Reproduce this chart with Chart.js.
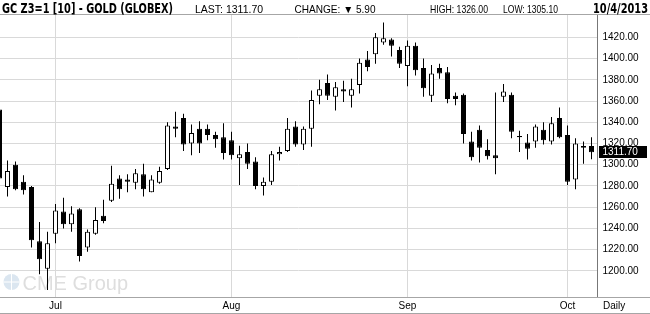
<!DOCTYPE html>
<html>
<head>
<meta charset="utf-8">
<script src="https://cdn.jsdelivr.net/npm/chart.js@4.4.0/dist/chart.umd.min.js"></script>
<style>
  html, body { margin: 0; padding: 0; background: #fff; }
  #wrap { position: relative; width: 650px; height: 314px; }
</style>
</head>
<body>
<div id="wrap"><canvas id="goldChart" width="650" height="314"></canvas></div>
<script>
/* ----------------------------------------------------------
   DATA: GC Z3 daily candles, Jun 20 - Oct 4 2013
   ---------------------------------------------------------- */
const opens  = [1352, 1279, 1300, 1284, 1279, 1228, 1202, 1235, 1256, 1244, 1258, 1222, 1235, 1252, 1266, 1287, 1286, 1283, 1291, 1274,
                1283, 1296, 1336, 1344, 1320, 1334, 1334, 1328, 1326, 1323, 1306, 1312, 1303, 1280, 1284, 1310, 1313, 1336, 1319, 1334,
                1365, 1377, 1364, 1371, 1365, 1375, 1399, 1404, 1415, 1418, 1408, 1393, 1412, 1391, 1365, 1391, 1387, 1365, 1366, 1322,
                1333, 1314, 1309, 1364, 1366, 1327, 1321, 1322, 1333, 1322, 1344, 1328, 1286, 1316, 1317.6];
const highs  = [1352, 1304, 1303, 1290, 1280, 1246, 1237, 1263, 1269, 1261, 1259, 1239, 1260, 1267, 1299, 1290, 1291, 1296, 1301, 1290,
                1298, 1340, 1350, 1348, 1338, 1341, 1338, 1331, 1339, 1331, 1318, 1320, 1307, 1288, 1313, 1317, 1344, 1341, 1336, 1370,
                1380, 1385, 1378, 1379, 1381, 1400, 1407, 1424, 1434, 1419, 1411, 1417, 1415, 1400, 1394, 1395, 1392, 1368, 1367, 1331,
                1337, 1324, 1368, 1376, 1368, 1332, 1329, 1338, 1340, 1345, 1354, 1337, 1325, 1322, 1326];
const lows   = [1287, 1270, 1276, 1272, 1222, 1197, 1182, 1226, 1240, 1237, 1209, 1218, 1234, 1245, 1265, 1268, 1274, 1277, 1270, 1274,
                1282, 1295, 1326, 1313, 1309, 1311, 1323, 1316, 1305, 1305, 1281, 1296, 1277, 1271, 1281, 1304, 1312, 1317, 1314, 1317,
                1357, 1361, 1351, 1359, 1354, 1367, 1388, 1395, 1413, 1402, 1391, 1374, 1384, 1364, 1359, 1381, 1358, 1356, 1320, 1304,
                1302, 1305, 1291, 1359, 1325, 1312, 1305, 1316, 1319, 1319, 1325, 1281, 1277, 1301, 1305.1];
const closes = [1287, 1294, 1277, 1276, 1229, 1211, 1226, 1257, 1244, 1254, 1214, 1237, 1248, 1247, 1282, 1277, 1284, 1292, 1277, 1286,
                1294, 1337, 1334, 1319, 1330, 1320, 1328, 1324, 1311, 1309, 1310, 1301, 1280, 1284, 1310, 1312, 1334, 1319, 1334, 1361,
                1371, 1365, 1373, 1369, 1371, 1396, 1392, 1420, 1419, 1412, 1395, 1412, 1389, 1372, 1386, 1386, 1362, 1362, 1329, 1307,
                1316, 1308, 1306, 1369, 1331, 1326, 1315, 1336, 1323, 1339, 1326, 1284, 1320, 1317.6, 1311.7];

// first trading day of each month (candle index) and its label
const monthStarts = [7, 29, 51, 71];
const monthLabels = ['Jul', 'Aug', 'Sep', 'Oct'];
const priceTicks  = [1200, 1220, 1240, 1260, 1280, 1300, 1320, 1340, 1360, 1380, 1400, 1420];

const lastPrice = closes[closes.length - 1];

/* ----------------------------------------------------------
   CANDLE DATASETS (wick + body as floating bars)
   ---------------------------------------------------------- */
const wickData = highs.map((h, i) => ({ x: i, y: [lows[i], h] }));
const bodyData = opens.map((o, i) => ({ x: i, y: [Math.min(o, closes[i]), Math.max(o, closes[i])] }));
const bodyFill = opens.map((o, i) => closes[i] >= o ? '#ffffff' : '#000000');

const SMALL = '"Liberation Sans", Arial, sans-serif';
const NARROW = '"Liberation Sans Narrow", "DejaVu Sans Condensed", "Liberation Sans", sans-serif';

/* ----------------------------------------------------------
   HEADER, WATERMARK, LAST PRICE TAG
   ---------------------------------------------------------- */
const chromePlugin = {
    id: 'chrome',
    beforeDatasetsDraw(chart) {
        const ctx = chart.ctx;
        ctx.save();
        // CME Group watermark
        ctx.fillStyle = '#dbe6f0';
        ctx.beginPath();
        ctx.arc(11.5, 282, 8, 0, Math.PI * 2);
        ctx.fill();
        ctx.strokeStyle = '#ffffff';
        ctx.lineWidth = 1;
        ctx.beginPath();
        ctx.moveTo(3.5, 282); ctx.lineTo(19.5, 282);
        ctx.moveTo(11.5, 274); ctx.lineTo(11.5, 290);
        ctx.stroke();
        ctx.fillStyle = '#dedede';
        ctx.font = '20px ' + SMALL;
        ctx.textBaseline = 'alphabetic';
        ctx.fillText('CME Group', 22.5, 289.5, 107);
        ctx.restore();
    },
    afterDraw(chart) {
        const ctx = chart.ctx;
        const w = chart.width;
        ctx.save();

        // frame lines
        ctx.strokeStyle = '#a6a6a6';
        ctx.lineWidth = 1;
        ctx.beginPath();
        ctx.moveTo(0, 14.5); ctx.lineTo(w, 14.5);
        ctx.moveTo(0, 297.5); ctx.lineTo(w, 297.5);
        ctx.moveTo(0, 313.5); ctx.lineTo(w, 313.5);
        ctx.stroke();

        // header texts
        ctx.fillStyle = '#000';
        ctx.textBaseline = 'alphabetic';
        ctx.font = 'bold 14px ' + NARROW;
        ctx.fillText('GC Z3=1 [10] - GOLD (GLOBEX)', 2, 12.5, 171);
        ctx.textAlign = 'right';
        ctx.fillText('10/4/2013', 648, 12.5, 55);
        ctx.textAlign = 'left';

        ctx.font = '10.5px ' + SMALL;
        ctx.fillText('LAST: 1311.70', 195, 12.5, 71);
        ctx.fillText('CHANGE: \u25BC 5.90', 294.5, 12.5, 81);
        ctx.fillText('HIGH: 1326.00', 430, 12.5, 58);
        ctx.fillText('LOW: 1305.10', 503, 12.5, 55);

        // "Daily" under the price axis
        ctx.font = '10px ' + SMALL;
        ctx.textBaseline = 'middle';
        ctx.fillText('Daily', 603, 306.5);

        // last price tag
        const y = chart.scales.y.getPixelForValue(lastPrice);
        ctx.fillStyle = '#000';
        ctx.fillRect(599, Math.round(y - 6), 48, 12);
        ctx.fillStyle = '#fff';
        ctx.fillText(lastPrice.toFixed(2), 602.5, Math.round(y) + 0.5);

        ctx.restore();
    }
};

const ctx = document.getElementById('goldChart').getContext('2d');

const goldChart = new Chart(ctx, {
    type: 'bar',
    data: {
        datasets: [
            {
                label: 'Range',
                data: wickData,
                backgroundColor: '#000',
                borderWidth: 0,
                barThickness: 1,
                grouped: false,
                inflateAmount: 0,
                order: 2
            },
            {
                label: 'Body',
                data: bodyData,
                backgroundColor: bodyFill,
                borderColor: '#000',
                borderWidth: 1,
                borderSkipped: false,
                barThickness: 5,
                grouped: false,
                inflateAmount: 0,
                order: 1
            }
        ]
    },
    options: {
        responsive: false,
        animation: false,
        events: [],
        layout: { padding: { top: 15, left: 0, right: 0, bottom: 0 } },
        plugins: {
            legend: { display: false },
            tooltip: { enabled: false },
            title: { display: false }
        },
        scales: {
            x: {
                type: 'linear',
                offset: false,
                min: 0.0625,
                max: 74.75,
                afterBuildTicks: (scale) => { scale.ticks = monthStarts.map(v => ({ value: v })); },
                afterFit: (scale) => { scale.height = 16.5; },
                grid: { color: '#d9d9d9', drawTicks: false, offset: false },
                border: { display: false },
                ticks: {
                    autoSkip: false,
                    maxRotation: 0,
                    padding: 3,
                    color: '#000',
                    font: { family: SMALL, size: 10 },
                    callback: (value) => monthLabels[monthStarts.indexOf(value)]
                }
            },
            y: {
                position: 'right',
                min: 1175,
                max: 1441,
                afterBuildTicks: (scale) => { scale.ticks = priceTicks.map(v => ({ value: v })); },
                afterFit: (scale) => { scale.width = 52.5; },
                grid: { color: '#d9d9d9', drawTicks: false },
                border: { display: true, color: '#777' },
                ticks: {
                    padding: 5,
                    color: '#000',
                    font: { family: SMALL, size: 10 },
                    callback: (value) => Number(value).toFixed(2)
                }
            }
        }
    },
    plugins: [chromePlugin]
});
</script>
</body>
</html>
